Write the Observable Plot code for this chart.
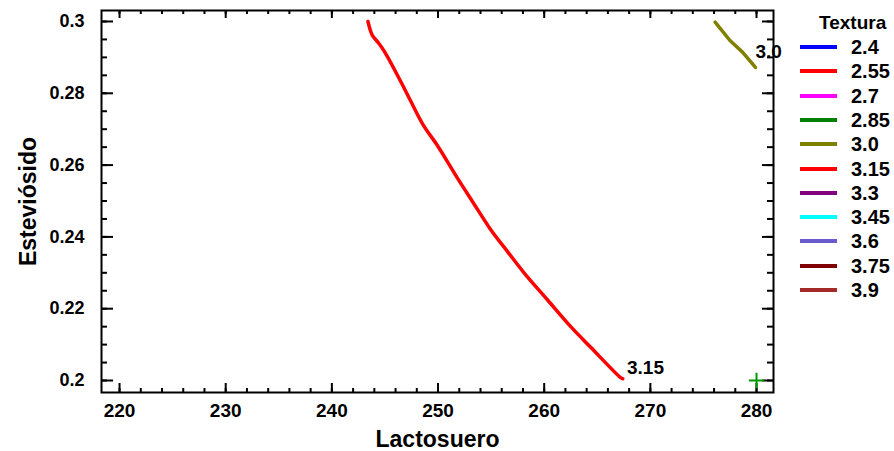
<!DOCTYPE html>
<html>
<head>
<meta charset="utf-8">
<script src="https://cdn.jsdelivr.net/npm/d3@7"></script>
<script src="https://cdn.jsdelivr.net/npm/@observablehq/plot@0.6"></script>
<style>
  html, body { margin: 0; padding: 0; background: #fff; }
  #wrap { position: relative; width: 894px; height: 451px; font-family: "Liberation Sans", Arial, sans-serif; font-weight: bold; }
  #legend { position: absolute; left: 795px; top: 0; width: 99px; }
  .lg-title { position: absolute; left: 24px; top: 13px; font-size: 19px; line-height: 20px; }
  .lg-row { position: absolute; left: 0; height: 20px; width: 99px; }
  .lg-sw { position: absolute; left: 5px; top: 8px; width: 37px; height: 4px; }
  .lg-lab { position: absolute; left: 56px; top: 0; font-size: 20px; line-height: 20px; }
</style>
</head>
<body>
<div id="wrap"><div id="legend"></div></div>
<script>
// Legend categories and colours
const texturaLevels = ["2.4", "2.55", "2.7", "2.85", "3.0", "3.15", "3.3", "3.45", "3.6", "3.75", "3.9"];
const texturaColors = ["#0000ff", "#ff0000", "#ff00ff", "#008000", "#808000", "#ff0000", "#800080", "#00ffff", "#6a5acd", "#800000", "#a52a2a"];

// Contour Textura = 3.15 (Lactosuero, Esteviósido)
const lact315 = [243.4, 243.8, 244.4, 245.0, 246.5, 247.4, 248.6, 250.0, 251.8, 253.3, 254.9, 256.6, 258.1, 260.3, 262.5, 264.4, 267.2, 267.4];
const est315  = [0.3000, 0.2962, 0.2940, 0.2914, 0.2832, 0.2780, 0.2712, 0.2652, 0.2565, 0.2496, 0.2423, 0.2357, 0.2300, 0.2225, 0.2150, 0.2092, 0.2008, 0.2005];

// Contour Textura = 3.0
const lact30 = [276.1, 277.5, 278.7, 279.9];
const est30  = [0.2998, 0.2947, 0.2914, 0.2872];

// Contour labels
const labelText = ["3.0", "3.15"];
const labelX = [279.9, 267.8];
const labelY = [0.2915, 0.2035];

// Marker (optimum)
const markX = [280];
const markY = [0.2];

// Axis ticks
const xTicks = [220, 230, 240, 250, 260, 270, 280];
const xMinor = [220, 222, 224, 226, 228, 230, 232, 234, 236, 238, 240, 242, 244, 246, 248, 250, 252, 254, 256, 258, 260, 262, 264, 266, 268, 270, 272, 274, 276, 278, 280];
const yTicks = [0.2, 0.22, 0.24, 0.26, 0.28, 0.3];
const yTickLabels = ["0.2", "0.22", "0.24", "0.26", "0.28", "0.3"];
const yMinor = [0.2, 0.205, 0.21, 0.215, 0.22, 0.225, 0.23, 0.235, 0.24, 0.245, 0.25, 0.255, 0.26, 0.265, 0.27, 0.275, 0.28, 0.285, 0.29, 0.295, 0.3];

const W = 894, H = 451, mL = 101, mR = 121, mT = 10, mB = 59;
const fH = H - mT - mB, fW = W - mL - mR;

const c315 = lact315.map((x, i) => ({x, y: est315[i]}));
const c30 = lact30.map((x, i) => ({x, y: est30[i]}));
const labels = labelText.map((t, i) => ({t, x: labelX[i], y: labelY[i]}));
const marks = markX.map((x, i) => ({x, y: markY[i]}));

const chart = Plot.plot({
  width: W, height: H,
  marginLeft: mL, marginRight: mR, marginTop: mT, marginBottom: mB,
  style: {fontFamily: "'Liberation Sans', Arial, sans-serif", fontWeight: "bold", color: "black", background: "white", overflow: "visible"},
  x: {domain: [218.3, 281.6]},
  y: {domain: [0.19666, 0.30306]},
  marks: [
    Plot.line(c315, {x: "x", y: "y", stroke: "#ff0000", strokeWidth: 3.5, curve: "catmull-rom"}),
    Plot.line(c30, {x: "x", y: "y", stroke: "#808000", strokeWidth: 3.5}),
    // inward ticks: bottom
    Plot.tickX(xMinor, {x: d => d, insetTop: fH - 4, stroke: "black", strokeWidth: 2}),
    Plot.tickX(xTicks, {x: d => d, insetTop: fH - 9, stroke: "black", strokeWidth: 2}),
    // top
    Plot.tickX(xMinor, {x: d => d, insetBottom: fH - 4, stroke: "black", strokeWidth: 2}),
    Plot.tickX(xTicks, {x: d => d, insetBottom: fH - 8, stroke: "black", strokeWidth: 2}),
    // left
    Plot.tickY(yMinor, {y: d => d, insetRight: fW - 6, stroke: "black", strokeWidth: 2}),
    Plot.tickY(yTicks, {y: d => d, insetRight: fW - 12, stroke: "black", strokeWidth: 2}),
    // right
    Plot.tickY(yMinor, {y: d => d, insetLeft: fW - 6, stroke: "black", strokeWidth: 2}),
    Plot.tickY(yTicks, {y: d => d, insetLeft: fW - 11, stroke: "black", strokeWidth: 2}),
    Plot.frame({stroke: "black", strokeWidth: 2}),
    Plot.axisX(xTicks, {tickSize: 0, tickPadding: 11, fontSize: 19, fontWeight: "bold", label: null, tickFormat: d => String(d)}),
    Plot.axisY(yTicks, {tickSize: 0, tickPadding: 17, fontSize: 18, fontWeight: "bold", label: null, tickFormat: (d, i) => yTickLabels[i]}),
    Plot.text(["Lactosuero"], {frameAnchor: "bottom", dy: 47, lineAnchor: "middle", textAnchor: "middle", fontSize: 23, fontWeight: "bold", fill: "black"}),
    Plot.text(["Esteviósido"], {frameAnchor: "left", dx: -73, lineAnchor: "middle", textAnchor: "middle", rotate: -90, fontSize: 23, fontWeight: "bold", fill: "black"}),
    Plot.text(labels, {x: "x", y: "y", text: "t", textAnchor: "start", dx: 0, fontSize: 19, fontWeight: "bold", fill: "black"}),
    Plot.dot(marks, {x: "x", y: "y", symbol: "plus", r: 5, stroke: "#009900", strokeWidth: 2})
  ]
});
document.getElementById("wrap").prepend(chart);

// Legend
const lg = document.getElementById("legend");
const title = document.createElement("div");
title.className = "lg-title";
title.textContent = "Textura";
lg.appendChild(title);
texturaLevels.forEach((lev, i) => {
  const row = document.createElement("div");
  row.className = "lg-row";
  row.style.top = (37 + i * 24.3) + "px";
  const sw = document.createElement("div");
  sw.className = "lg-sw";
  sw.style.background = texturaColors[i];
  const lab = document.createElement("div");
  lab.className = "lg-lab";
  lab.textContent = lev;
  row.appendChild(sw);
  row.appendChild(lab);
  lg.appendChild(row);
});
</script>
</body>
</html>
